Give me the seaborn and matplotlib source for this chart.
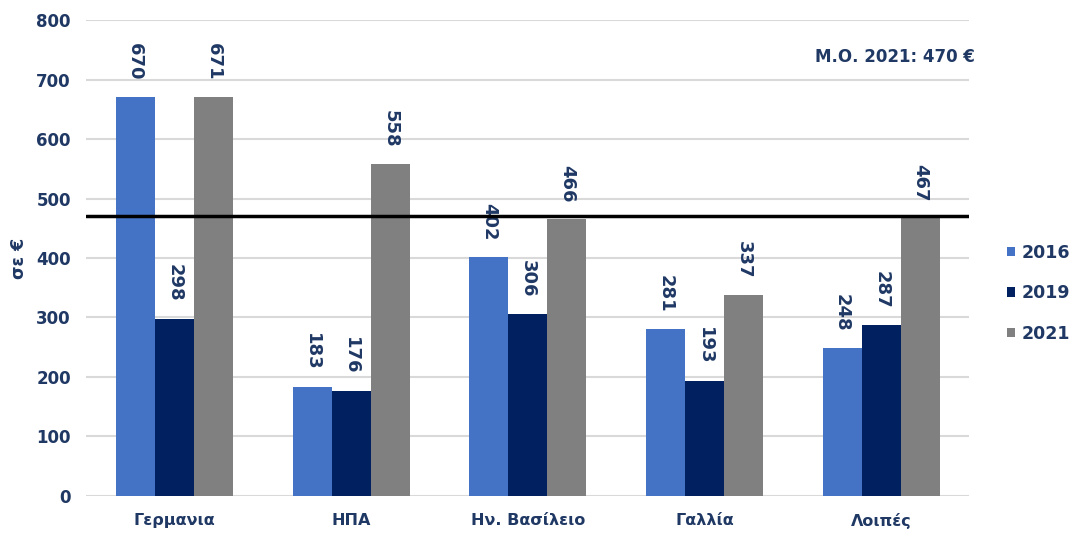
import matplotlib
matplotlib.use("Agg")
import matplotlib.pyplot as plt
import seaborn as sns
import pandas as pd

# Average spend per visitor by origin country (in €)
countries = ["Γερμανια", "ΗΠΑ", "Ην. Βασίλειο", "Γαλλία", "Λοιπές"]
years = ["2016", "2019", "2021"]
v2016 = [670, 183, 402, 281, 248]
v2019 = [298, 176, 306, 193, 287]
v2021 = [671, 558, 466, 337, 467]
mean_2021 = 470

colors = ["#4472C4", "#002060", "#808080"]
text_color = "#1F3864"

rows = []
for yr, vals in zip(years, [v2016, v2019, v2021]):
    for c, v in zip(countries, vals):
        rows.append({"country": c, "year": yr, "value": v})
df = pd.DataFrame(rows)

sns.set_theme(style="white")
plt.rcParams["font.family"] = ["DejaVu Sans"]

fig = plt.figure(figsize=(10.76, 5.34), dpi=100)
ax = fig.add_axes([0.080, 0.0712, 0.821, 0.8913])

sns.barplot(data=df, x="country", y="value", hue="year", palette=colors,
            width=0.663, saturation=1, ax=ax, legend=True, errorbar=None,
            linewidth=0)

for cont in ax.containers:
    ax.bar_label(cont, labels=[f"{int(b.get_height())}" for b in cont],
                 rotation=-90, padding=12, fontsize=13, fontweight="bold",
                 color=text_color)

ax.set_ylim(0, 800)
ax.set_yticks(range(0, 801, 100))
ax.yaxis.grid(True, color="#D9D9D9", lw=1.5)
ax.set_axisbelow(True)
for s in ax.spines.values():
    s.set_visible(False)

ax.axhline(mean_2021, color="black", lw=2.5, zorder=5)
ax.text(1.006, 738, f"Μ.Ο. 2021: {mean_2021} €", transform=ax.get_yaxis_transform(),
        ha="right", va="center", fontsize=12, fontweight="bold", color=text_color)

ax.set_xlabel("")
ax.set_ylabel("σε €", fontsize=12.5, fontweight="bold", color=text_color, labelpad=6)
ax.tick_params(axis="both", length=0, labelsize=12, labelcolor=text_color)
ax.tick_params(axis="y", pad=11)
ax.tick_params(axis="x", labelsize=11.5, pad=12)
for lbl in ax.get_xticklabels() + ax.get_yticklabels():
    lbl.set_fontweight("bold")

handles, labels = ax.get_legend_handles_labels()
ax.get_legend().remove()
leg = fig.legend(handles, labels, loc="center left", bbox_to_anchor=(0.936, 0.451),
                 frameon=False, handlelength=0.46, handleheight=0.46,
                 borderpad=0, borderaxespad=0,
                 handletextpad=0.35, labelspacing=1.3, fontsize=12.5)
for t in leg.get_texts():
    t.set_fontweight("bold")
    t.set_color(text_color)

fig.savefig("out.png", dpi=100)
